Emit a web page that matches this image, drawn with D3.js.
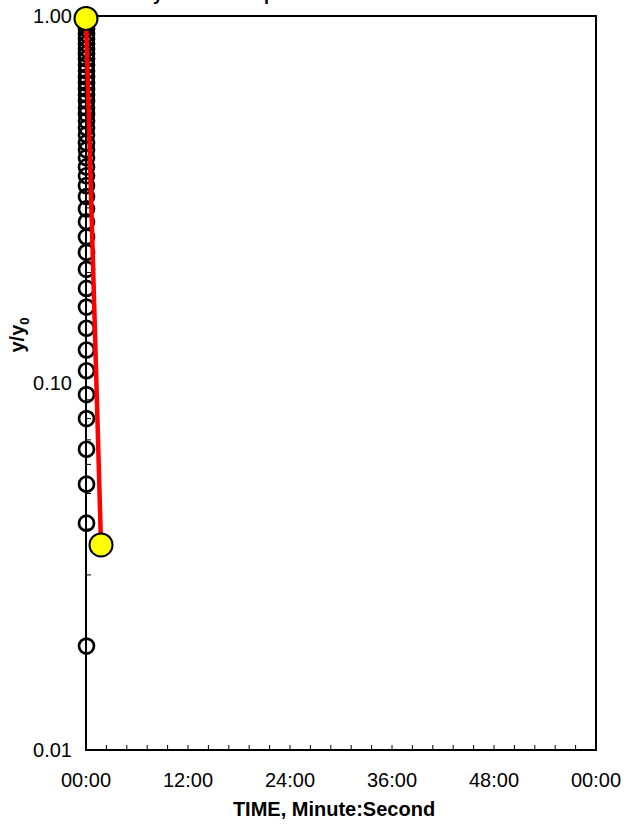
<!DOCTYPE html>
<html>
<head>
<meta charset="utf-8">
<script src="https://cdn.jsdelivr.net/npm/d3@7"></script>
<style>
  body { margin: 0; background: #fff; }
  svg { display: block; font-family: Arial, "Liberation Sans", sans-serif; }
</style>
</head>
<body>
<svg id="chart" width="632" height="824"></svg>
<script>
// measured points: time in seconds, ratio y/y0
const obsTime = [0,0,0,0,0,0,0,0,0,0,0,0,0,0,0,0,0,0,0,0,0,0,0,0,0,0,0,0,0,0,0,0,0,0,0,0,0,0,0,0,0,0,0,0,0,0];
const obsRatio = [1.000, 0.969, 0.945, 0.922, 0.893, 0.866, 0.839, 0.813, 0.788, 0.764, 0.736,
  0.709, 0.682, 0.657, 0.633, 0.610, 0.587, 0.562, 0.541, 0.518, 0.496, 0.475, 0.451,
  0.432, 0.411, 0.388, 0.367, 0.345, 0.322, 0.298, 0.275, 0.250, 0.227, 0.204, 0.181,
  0.161, 0.141, 0.123, 0.108, 0.093, 0.080, 0.066, 0.053, 0.0415, 0.0192];

// model line endpoints (yellow markers)
const fitTime = [0, 106];
const fitRatio = [0.985, 0.0362];

const xTickSeconds = [0, 720, 1440, 2160, 2880, 3600];
const yTickValues = [1, 0.1, 0.01];
const yTickLabels = ['1.00', '0.10', '0.01'];

const titleText = 'Decay Curve Comparison';
const xTitle = 'TIME, Minute:Second';

const svg = d3.select('#chart');
const margin = { left: 86, right: 36, top: 16, bottom: 74 };
const W = 632, H = 824;
const x0 = margin.left, x1 = W - margin.right, y0 = margin.top, y1 = H - margin.bottom;

const x = d3.scaleLinear().domain([0, 3600]).range([x0, x1]);
const y = d3.scaleLog().domain([0.01, 1]).range([y1, y0]);

// title, mostly off the top edge
svg.append('text')
  .attr('x', 110).attr('y', 0)
  .attr('font-size', 18).attr('font-weight', 'bold')
  .text(titleText);

// minor ticks
const g = svg.append('g');
const xMinor = d3.range(0, 3600 + 1, 144);
g.selectAll('line.xt').data(xMinor).join('line')
  .attr('x1', d => x(d)).attr('x2', d => x(d))
  .attr('y1', y1).attr('y2', y1 - 5)
  .attr('stroke', '#000').attr('stroke-width', 1);

const yMinor = [];
[0.01, 0.1].forEach(b => { for (let k = 2; k <= 9; k++) yMinor.push(b * k); });
g.selectAll('line.yt').data(yMinor).join('line')
  .attr('x1', x0).attr('x2', x0 + 5)
  .attr('y1', d => y(d)).attr('y2', d => y(d))
  .attr('stroke', '#000').attr('stroke-width', 1);

// tick labels
const fmt = s => {
  const m = Math.floor(s / 60) % 60, sec = s % 60;
  return String(m).padStart(2, '0') + ':' + String(sec).padStart(2, '0');
};
svg.append('g').selectAll('text').data(xTickSeconds).join('text')
  .attr('x', d => x(d)).attr('y', y1 + 37)
  .attr('text-anchor', 'middle').attr('font-size', 20)
  .text(d => fmt(d));

svg.append('g').selectAll('text').data(yTickValues).join('text')
  .attr('x', x0 - 14).attr('y', d => y(d) + 7)
  .attr('text-anchor', 'end').attr('font-size', 20)
  .text((d, i) => yTickLabels[i]);

// axis titles
svg.append('text')
  .attr('x', 334).attr('y', y1 + 66)
  .attr('text-anchor', 'middle').attr('font-size', 20).attr('font-weight', 'bold')
  .text(xTitle);

const yl = svg.append('text')
  .attr('transform', 'translate(24,335) rotate(-90)')
  .attr('text-anchor', 'middle').attr('font-size', 20).attr('font-weight', 'bold');
yl.append('tspan').text('y/y');
yl.append('tspan').attr('font-size', 13).attr('dy', 5).text('0');

// frame
svg.append('rect')
  .attr('x', x0).attr('y', y0).attr('width', x1 - x0).attr('height', y1 - y0)
  .attr('fill', 'none').attr('stroke', '#000').attr('stroke-width', 2);

// observations
const obs = obsTime.slice(0, obsRatio.length).map((t, i) => ({ t, v: obsRatio[i] }));
svg.append('g').selectAll('circle').data(obs).join('circle')
  .attr('cx', d => x(d.t) + 0.5).attr('cy', d => y(d.v)).attr('r', 7.5)
  .attr('fill', 'none').attr('stroke', '#000').attr('stroke-width', 2.7);

// model line
const fit = fitTime.map((t, i) => ({ t, v: fitRatio[i] }));
svg.append('path').datum(fit)
  .attr('d', d3.line().x(d => x(d.t)).y(d => y(d.v)))
  .attr('fill', 'none').attr('stroke', '#ff0000').attr('stroke-width', 4.5);

svg.append('g').selectAll('circle').data(fit).join('circle')
  .attr('cx', d => x(d.t)).attr('cy', d => y(d.v)).attr('r', 11.5)
  .attr('fill', '#ffff00').attr('stroke', '#000').attr('stroke-width', 2);
</script>
</body>
</html>
